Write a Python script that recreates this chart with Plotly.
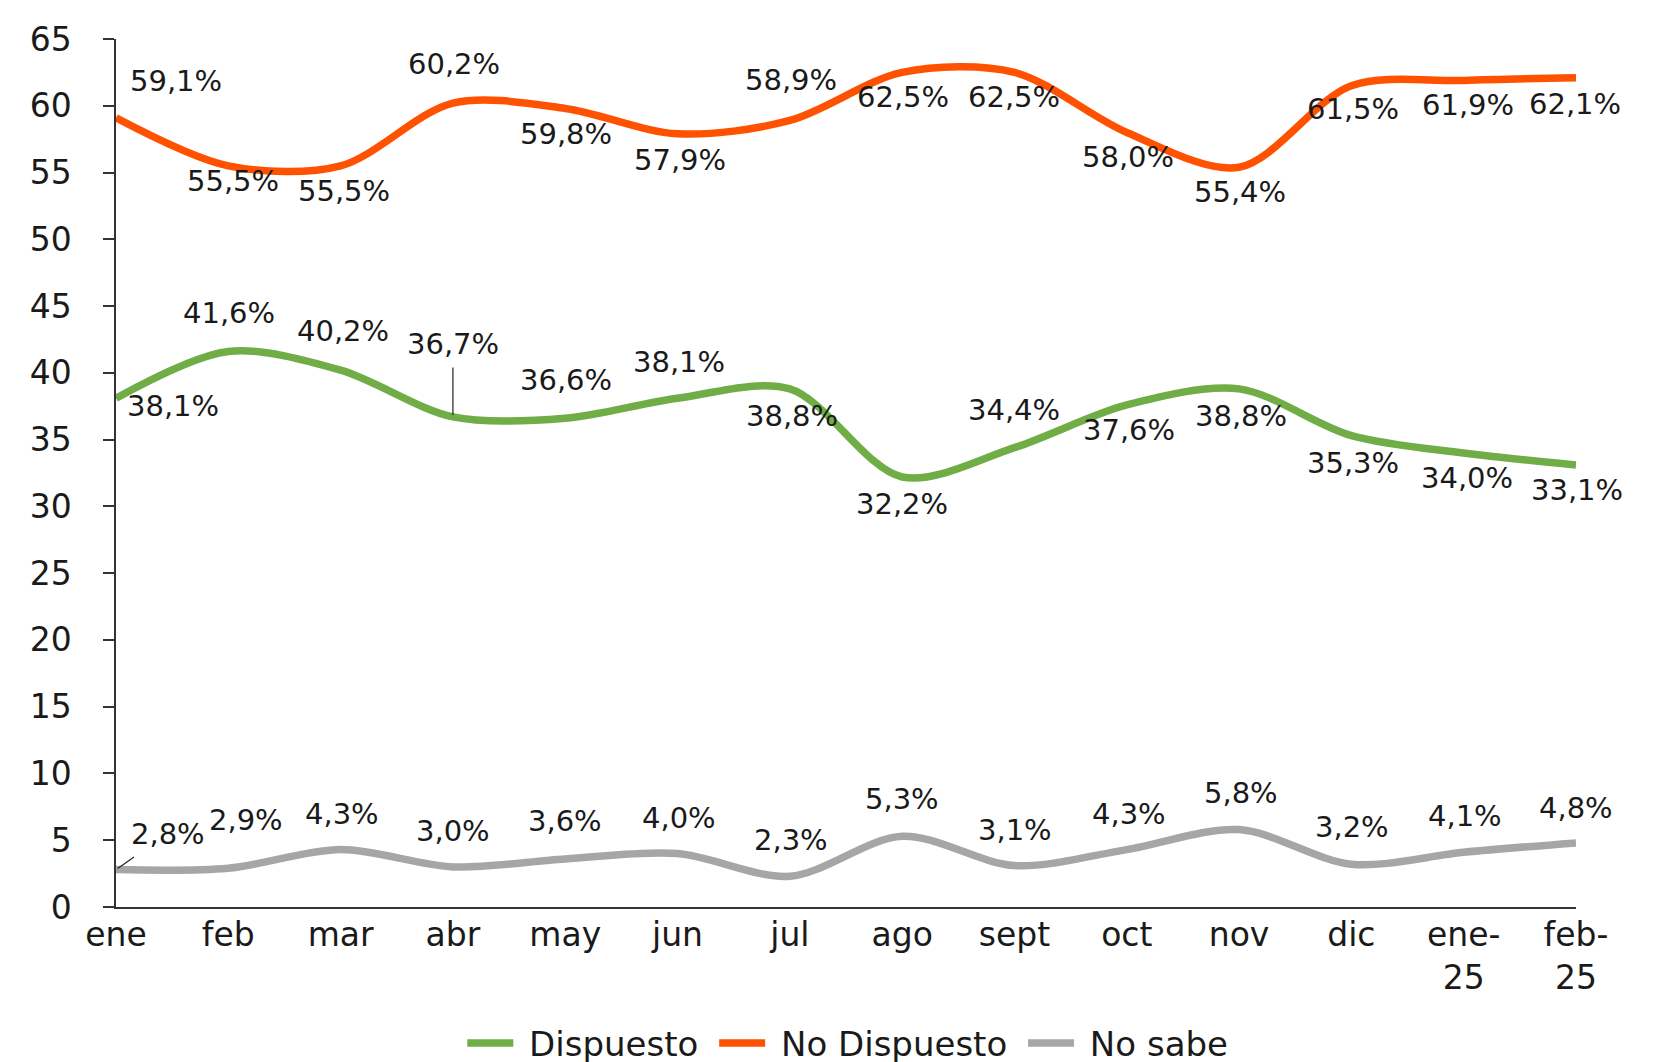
import plotly.graph_objects as go

categories = ["ene", "feb", "mar", "abr", "may", "jun", "jul", "ago", "sept",
              "oct", "nov", "dic", "ene-<br>25", "feb-<br>25"]
dispuesto = [38.1, 41.6, 40.2, 36.7, 36.6, 38.1, 38.8, 32.2, 34.4, 37.6, 38.8, 35.3, 34.0, 33.1]
no_dispuesto = [59.1, 55.5, 55.5, 60.2, 59.8, 57.9, 58.9, 62.5, 62.5, 58.0, 55.4, 61.5, 61.9, 62.1]
no_sabe = [2.8, 2.9, 4.3, 3.0, 3.6, 4.0, 2.3, 5.3, 3.1, 4.3, 5.8, 3.2, 4.1, 4.8]
series_names = ["Dispuesto", "No Dispuesto", "No sabe"]
y_ticks = list(range(0, 70, 5))

FONT = "DejaVu Sans"
LBL = 29
AX = 33
COL_G = "#70AD47"
COL_O = "#FF5200"
COL_S = "#A6A6A6"
TXT = "#1a1a1a"

# label offsets (pixels): (xshift, yshift); "arrow" => leader-line annotation (ax, ay)
off_o = [(60, 37), (5, -15), (3, -25), (1, 39), (1, -26), (2, -26), (1, 40),
         (1, -25), (0, -25), (1, -25), (1, -25), (2, -23), (4, -25), (-1, -26)]
off_g = [(57, -8), (1, 38), (2, 39), ("arrow", 0, -73), (1, 38), (1, 36), (2, -27),
         (0, -27), (0, 38), (2, -25), (2, -27), (2, -27), (3, -25), (1, -25)]
off_s = [("arrow", 52, -36), (18, 48), (1, 36), (0, 36), (0, 38), (1, 36), (1, 36),
         (0, 37), (1, 36), (2, 36), (2, 37), (1, 37), (1, 36), (0, 35)]

x = list(range(len(categories)))

fig = go.Figure()
for name, vals, col in zip(series_names, [dispuesto, no_dispuesto, no_sabe],
                           [COL_G, COL_O, COL_S]):
    fig.add_trace(go.Scatter(
        x=x, y=vals, name="\u00a0" + name + "\u00a0", mode="lines",
        line=dict(color=col, width=7.5, shape="spline", smoothing=0.9),
        hoverinfo="skip"))

def fmt(v):
    return f"{v:.1f}".replace(".", ",") + "%"

annotations = []
for vals, offs in [(no_dispuesto, off_o), (dispuesto, off_g), (no_sabe, off_s)]:
    for i, (v, o) in enumerate(zip(vals, offs)):
        if o[0] == "arrow":
            annotations.append(dict(
                x=i, y=v, text=fmt(v), showarrow=True, arrowhead=0,
                arrowwidth=1.2, arrowcolor="#222222", ax=o[1], ay=o[2],
                borderpad=6, standoff=2,
                font=dict(family=FONT, size=LBL, color=TXT)))
        else:
            annotations.append(dict(
                x=i, y=v, text=fmt(v), showarrow=False,
                xshift=o[0], yshift=o[1], xanchor="center", yanchor="middle",
                font=dict(family=FONT, size=LBL, color=TXT)))

fig.update_layout(
    width=1656, height=1062,
    margin=dict(l=108, r=88, t=31, b=163, autoexpand=False),
    paper_bgcolor="white", plot_bgcolor="white",
    font=dict(family=FONT, size=AX, color=TXT),
    showlegend=True,
    legend=dict(orientation="h", x=0.505, xanchor="center", y=-0.157, yanchor="middle",
                font=dict(family=FONT, size=34, color=TXT),
                itemwidth=46, tracegroupgap=0),
    annotations=annotations,
    xaxis=dict(
        range=[0, len(categories) - 1], tickvals=x, ticktext=categories,
        showline=True, linecolor="#333333", linewidth=1.5,
        ticks="", showgrid=False, zeroline=False, fixedrange=True,
        tickfont=dict(family=FONT, size=AX, color=TXT),
        ticklabelstandoff=-2),
    yaxis=dict(
        range=[0, 65], tickvals=y_ticks,
        showline=True, linecolor="#333333", linewidth=1.5,
        ticks="outside", ticklen=11, tickcolor="#333333", tickwidth=1.5,
        showgrid=False, zeroline=False, fixedrange=True,
        tickfont=dict(family=FONT, size=AX, color=TXT),
        ticklabelstandoff=25),
)

fig.write_html("out.html")
